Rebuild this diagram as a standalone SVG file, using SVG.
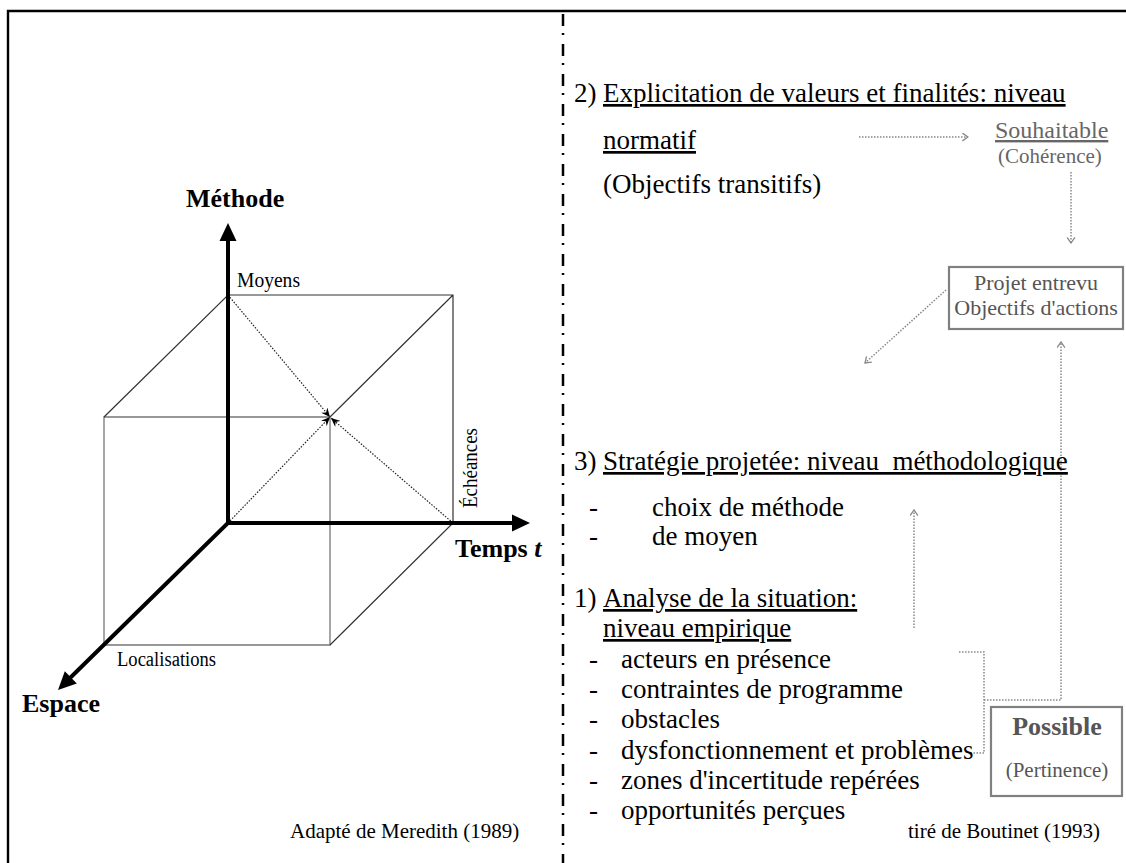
<svg xmlns="http://www.w3.org/2000/svg" width="1126" height="863" viewBox="0 0 1126 863">
<defs>
<style>
text{font-family:"Liberation Serif","Times New Roman",serif;}
.ax{font-size:26px;font-weight:bold;fill:#000}
.sm{font-size:20px;fill:#000}
.tx{font-size:27px;fill:#000}
.ul{text-decoration:underline}
.src{font-size:21px;fill:#000}
.back{stroke:#333;stroke-width:1.2;fill:none}
.front{stroke:#777;stroke-width:1.3;fill:none}
.axis{stroke:#000;stroke-width:4;fill:none;stroke-linejoin:miter}
.dot{stroke:#222;stroke-width:1.2;stroke-dasharray:1.5 1.5;fill:none}
.gdot{stroke:#888;stroke-width:1.5;stroke-dasharray:1.5 1.5;fill:none}
.box{fill:#fff;stroke:#808080;stroke-width:2.2}
.gt{fill:#555}
</style>
<marker id="bk" viewBox="0 0 9 8" markerWidth="9" markerHeight="8" refX="9" refY="4" orient="auto" markerUnits="userSpaceOnUse"><path d="M0,0 L9,4 L0,8 L3,4 z" fill="#000"/></marker>
<marker id="gv" viewBox="0 0 7 9" markerWidth="7" markerHeight="9" refX="6.2" refY="4.5" orient="auto" markerUnits="userSpaceOnUse"><path d="M0.6,0.6 L6.2,4.5 L0.6,8.4" fill="none" stroke="#888" stroke-width="1.3"/></marker>
</defs>
<rect x="0" y="0" width="1126" height="863" fill="#fff"/>
<g id="frame">
<path d="M8,863 V11 H1126" stroke="#000" stroke-width="2.4" fill="none"/>
<line x1="563" y1="14" x2="563" y2="863" stroke="#000" stroke-width="2.5" stroke-dasharray="12 7 2 9"/>
</g>
<g id="cube">
<path class="front" d="M104,417 H330 V645 H104 Z"/>
<path class="back" d="M104,417 L228,295 H453 V523 L330,645 M453,295 L330,417"/>
</g>
<g id="connectors">
<line class="dot" x1="228" y1="295" x2="330" y2="417" marker-end="url(#bk)"/>
<line class="dot" x1="228" y1="523" x2="330" y2="417" marker-end="url(#bk)"/>
<line class="dot" x1="453" y1="523" x2="331" y2="418" marker-end="url(#bk)"/>
<line class="gdot" x1="859" y1="137" x2="968" y2="137" marker-end="url(#gv)"/>
<line class="gdot" x1="1071" y1="172" x2="1071" y2="243" marker-end="url(#gv)"/>
<line class="gdot" x1="946" y1="290" x2="865" y2="363" marker-end="url(#gv)"/>
<polyline class="gdot" points="984,700 1061,700 1061,342" marker-end="url(#gv)"/>
<polyline class="gdot" points="959,652 984,652 984,753 969,753"/>
<line class="gdot" x1="914" y1="628" x2="914" y2="510" marker-end="url(#gv)"/>
</g>
<g id="axes">
<path class="axis" d="M69,679 L228,523 V240"/>
<path class="axis" d="M228,523 H514"/>
<polygon points="228,223 219.5,241 236.5,241" fill="#000"/>
<polygon points="530,523 512,514.5 512,531.5" fill="#000"/>
<polygon points="58,690 76.8,683.5 64.8,671.3" fill="#000"/>
</g>
<g id="axis-labels">
<text class="ax" x="186" y="207">Méthode</text>
<text class="ax" x="455" y="557">Temps <tspan font-style="italic">t</tspan></text>
<text class="ax" x="22" y="712">Espace</text>
<text class="sm" x="237" y="287" textLength="63" lengthAdjust="spacingAndGlyphs">Moyens</text>
<text class="sm" x="117" y="666" textLength="99" lengthAdjust="spacingAndGlyphs">Localisations</text>
<text class="sm" transform="translate(477,508) rotate(-90)" textLength="80" lengthAdjust="spacingAndGlyphs">Échéances</text>
<text class="src" x="290" y="838">Adapté de Meredith (1989)</text>
</g>
<g id="level2">
<text class="tx" x="574" y="102">2)</text>
<text class="tx ul" x="603" y="102">Explicitation de valeurs et finalités: niveau</text>
<text class="tx ul" x="603" y="149">normatif</text>
<text class="tx" x="603" y="193">(Objectifs transitifs)</text>
</g>
<g id="souhaitable">
<text class="ul" x="995" y="138" font-size="24" fill="#666">Souhaitable</text>
<text x="998" y="163" font-size="21" fill="#666">(Cohérence)</text>
</g>
<g id="projet">
<rect class="box" x="949" y="267" width="174" height="62"/>
<text class="gt" x="1036" y="290" font-size="22" text-anchor="middle">Projet entrevu</text>
<text class="gt" x="1036" y="315" font-size="22" text-anchor="middle">Objectifs d'actions</text>
</g>
<g id="level3">
<text class="tx" x="574" y="470">3)</text>
<text class="tx ul" x="603" y="470">Stratégie projetée: niveau&#160; méthodologique</text>
<text class="tx" x="589" y="516">-</text>
<text class="tx" x="652" y="516">choix de méthode</text>
<text class="tx" x="589" y="545">-</text>
<text class="tx" x="652" y="545">de moyen</text>
</g>
<g id="level1">
<text class="tx" x="574" y="607">1)</text>
<text class="tx ul" x="603" y="607">Analyse de la situation:</text>
<text class="tx ul" x="603" y="637">niveau empirique</text>
<text class="tx" x="589" y="668">-</text><text class="tx" x="621" y="668">acteurs en présence</text>
<text class="tx" x="589" y="698">-</text><text class="tx" x="621" y="698">contraintes de programme</text>
<text class="tx" x="589" y="728">-</text><text class="tx" x="621" y="728">obstacles</text>
<text class="tx" x="589" y="759">-</text><text class="tx" x="621" y="759">dysfonctionnement et problèmes</text>
<text class="tx" x="589" y="789">-</text><text class="tx" x="621" y="789">zones d'incertitude repérées</text>
<text class="tx" x="589" y="819">-</text><text class="tx" x="621" y="819">opportunités perçues</text>
</g>
<g id="possible">
<rect class="box" x="991" y="707" width="131" height="89"/>
<text class="gt" x="1057" y="735" font-size="26" font-weight="bold" text-anchor="middle">Possible</text>
<text class="gt" x="1057" y="777" font-size="21" text-anchor="middle">(Pertinence)</text>
</g>
<text class="src" x="908" y="838">tiré de Boutinet (1993)</text>
</svg>
